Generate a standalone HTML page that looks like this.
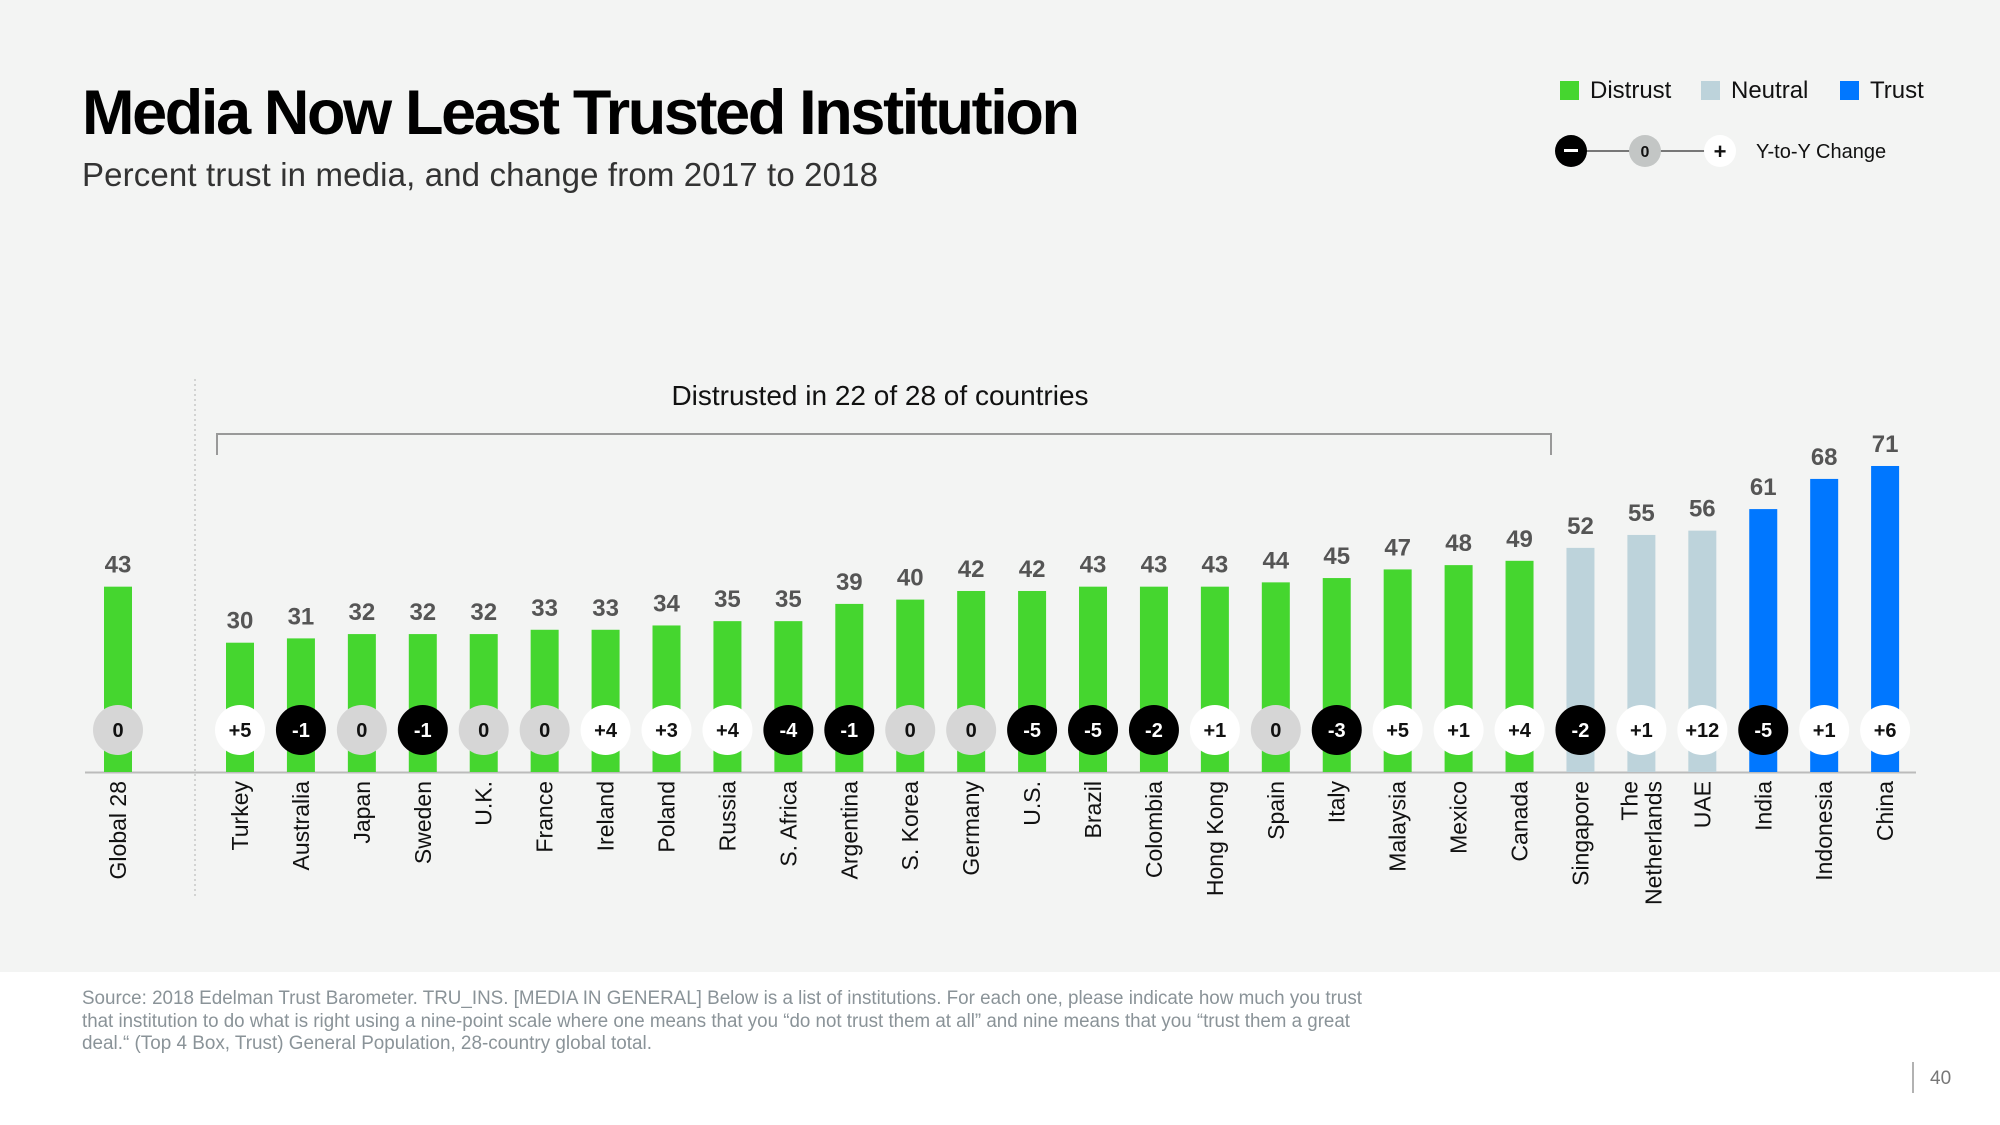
<!DOCTYPE html>
<html><head><meta charset="utf-8"><style>
html,body{margin:0;padding:0;background:#f3f4f3;}
svg{display:block;font-family:"Liberation Sans",Arial,sans-serif;}
</style></head><body>
<svg id="chart" width="2000" height="1125" viewBox="0 0 2000 1125" xmlns="http://www.w3.org/2000/svg">
<rect x="0" y="0" width="2000" height="1125" fill="#f3f4f3"/>
<rect x="0" y="972" width="2000" height="153" fill="#ffffff"/>
<text x="82" y="134" font-size="63" font-weight="bold" fill="#000" textLength="998">Media Now Least Trusted Institution</text>
<text x="82" y="186" font-size="33" fill="#333" textLength="796">Percent trust in media, and change from 2017 to 2018</text>
<g>
<rect x="1560" y="81" width="19" height="19" fill="#45d62f"/>
<text x="1590" y="98" font-size="24" fill="#111">Distrust</text>
<rect x="1701" y="81" width="19" height="19" fill="#bdd3db"/>
<text x="1731" y="98" font-size="24" fill="#111">Neutral</text>
<rect x="1840" y="81" width="19" height="19" fill="#0077ff"/>
<text x="1870" y="98" font-size="24" fill="#111">Trust</text>
<line x1="1571" y1="151" x2="1720" y2="151" stroke="#777" stroke-width="2"/>
<circle cx="1571" cy="151" r="16" fill="#000"/>
<rect x="1564" y="149" width="14" height="3" fill="#fff"/>
<circle cx="1645" cy="151" r="16" fill="#c3c6c5"/>
<text x="1645" y="157" font-size="16" font-weight="bold" text-anchor="middle" fill="#111">0</text>
<circle cx="1720" cy="151" r="16" fill="#fff"/>
<text x="1720" y="159" font-size="22" font-weight="bold" text-anchor="middle" fill="#111">+</text>
<text x="1756" y="158" font-size="20" fill="#111">Y-to-Y Change</text>
</g>
<line x1="195" y1="379" x2="195" y2="899" stroke="#c8c8c8" stroke-width="1.5" stroke-dasharray="2,3"/>
<path d="M217 455 V434 H1551 V455" fill="none" stroke="#999" stroke-width="2"/>
<text x="880" y="405" font-size="28" text-anchor="middle" fill="#111">Distrusted in 22 of 28 of countries</text>
<line x1="85" y1="772.5" x2="1916" y2="772.5" stroke="#bbb" stroke-width="2"/>
<g id="bars"></g>
<text x="82" y="1004" font-size="19" fill="#8a9398" textLength="1280" lengthAdjust="spacingAndGlyphs">Source: 2018 Edelman Trust Barometer. TRU_INS. [MEDIA IN GENERAL] Below is a list of institutions. For each one, please indicate how much you trust</text>
<text x="82" y="1027" font-size="19" fill="#8a9398" textLength="1268" lengthAdjust="spacingAndGlyphs">that institution to do what is right using a nine-point scale where one means that you “do not trust them at all” and nine means that you “trust them a great</text>
<text x="82" y="1049" font-size="19" fill="#8a9398" textLength="570" lengthAdjust="spacingAndGlyphs">deal.“ (Top 4 Box, Trust) General Population, 28-country global total.</text>
<line x1="1913" y1="1062" x2="1913" y2="1093" stroke="#999" stroke-width="1.5"/>
<text x="1930" y="1084" font-size="19" fill="#777">40</text>
</svg>
<script>
const countries = ["Global 28","Turkey","Australia","Japan","Sweden","U.K.","France","Ireland","Poland","Russia","S. Africa","Argentina","S. Korea","Germany","U.S.","Brazil","Colombia","Hong Kong","Spain","Italy","Malaysia","Mexico","Canada","Singapore","The|Netherlands","UAE","India","Indonesia","China"];
const trustValues = [43,30,31,32,32,32,33,33,34,35,35,39,40,42,42,43,43,43,44,45,47,48,49,52,55,56,61,68,71];
const changes = [0,5,-1,0,-1,0,0,4,3,4,-4,-1,0,0,-5,-5,-2,1,0,-3,5,1,4,-2,1,12,-5,1,6];
const categories = ["distrust","distrust","distrust","distrust","distrust","distrust","distrust","distrust","distrust","distrust","distrust","distrust","distrust","distrust","distrust","distrust","distrust","distrust","distrust","distrust","distrust","distrust","distrust","neutral","neutral","neutral","trust","trust","trust"];

const NS = "http://www.w3.org/2000/svg";
const baseY = 772;
const pxPerUnit = 4.31;
function yScale(v){ return baseY - v * pxPerUnit; }
function xScale(i){ return i === 0 ? 118 : 240 + (i - 1) * 60.93; }
const colors = {distrust:"#45d62f", neutral:"#bdd3db", trust:"#0077ff"};
const g = document.getElementById("bars");
function mk(tag, attrs){ const e = document.createElementNS(NS, tag); for (const k in attrs) e.setAttribute(k, attrs[k]); g.appendChild(e); return e; }

countries.forEach((name, i) => {
  const cx = xScale(i), v = trustValues[i], top = yScale(v);
  const bar = mk("rect", {x: cx - 14, y: top, width: 28, height: baseY - top, fill: colors[categories[i]]});
  
  

  const val = mk("text", {x: cx, y: top - 14, "font-size": 24, "font-weight": "bold", fill: "#555", "text-anchor": "middle"});
  val.textContent = v;
  
  

  const c = changes[i];
  const fill = c > 0 ? "#ffffff" : (c < 0 ? "#000000" : "#d6d6d6");
  const circ = mk("circle", {cx: cx, cy: 730, r: 25, fill: fill});
  
  
  const ct = mk("text", {x: cx, y: 737, "font-size": 20, "font-weight": "bold", fill: c < 0 ? "#fff" : "#111", "text-anchor": "middle"});
  ct.textContent = c > 0 ? "+" + c : String(c);
  
  

  const parts = name.split("|");
  parts.forEach((p, j) => {
    const off = (j - (parts.length - 1) / 2) * 24;
    const lx = cx + 8 + off;
    const t = mk("text", {x: 0, y: 0, "font-size": 23, fill: "#111", "text-anchor": "end", transform: "translate(" + lx + ",781) rotate(-90)"});
    t.textContent = p;
    
    
  });
});
</script>
</body></html>
